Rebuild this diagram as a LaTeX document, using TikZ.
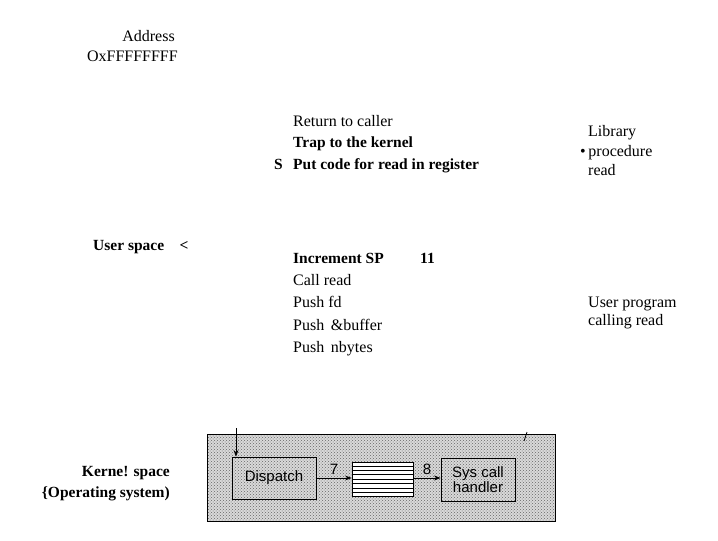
\documentclass[tikz,border=0pt]{standalone}
\usepackage{fontspec}
\setmainfont{Liberation Serif}
\setsansfont{Liberation Sans}
\usetikzlibrary{patterns}
\usetikzlibrary{positioning, calc, arrows.meta}

\tikzset{
    txt/.style={inner sep=0pt, anchor=base west, font=\fontsize{16}{18}\selectfont},
    btxt/.style={txt, font=\fontsize{15.5}{18}\selectfont\bfseries},
    stipple/.style={preaction={fill=gray!30}, pattern=crosshatch dots, pattern color=gray!80!black},
    osbox/.style={draw, thick, stipple, inner sep=0pt, font=\sffamily\fontsize{15}{15}\selectfont, align=center},
}

\begin{document}
\begin{tikzpicture}[x=1pt, y=-1pt, >=Stealth]
    % Page frame
    \useasboundingbox (0,0) rectangle (718,541);

    % Top address
    \node[txt, anchor=base east] (addr) at (175,41) {Address};
    \node[txt, anchor=base east] (top) at (178,61) {OxFFFFFFFF};

    % Library procedure
    \node[txt] (ret) at (293,126) {Return to caller};
    \node[btxt] (trap) at (293,147) {Trap to the kernel};
    \node[btxt] (put) at (293,169) {Put code for read in register};
    \node[btxt, anchor=base east] (s) at (283,169) {S};
    \node[txt] (lib1) at (588,136) {Library};
    \node[txt] (lib2) at (580,156) {\textbullet\,procedure};
    \node[txt] (lib3) at (588,175) {read};

    % User program
    \node[btxt] (user) at (93,250) {User space\quad<};
    \node[btxt] (inc) at (293,263) {Increment SP};
    \node[btxt] (eleven) at (420,263) {11};
    \node[txt] (call) at (293,285) {Call read};
    \node[txt] (pfd) at (293,307) {Push fd};
    \node[txt] (pbuf) at (293,330) {Push \,\&buffer};
    \node[txt] (pnb) at (293,352) {Push \,nbytes};
    \node[txt] (up1) at (588,307) {User program};
    \node[txt] (up2) at (588,325) {calling read};

    % Kernel space
    \node[btxt, anchor=base east] (kern) at (170,476) {Kerne! space};
    \node[btxt, anchor=base east] (os) at (170,497) {\{Operating system)};
    \draw[thick, stipple] (207,434) rectangle (555,521);

    \node[osbox, minimum width=84pt, minimum height=42pt] (disp) at (274,478) {Dispatch};
    \node[draw, thick, fill=white, minimum width=61pt, minimum height=34pt] (tbl) at (382.5,479) {};
    \foreach \k in {1,...,7} {
        \draw ($(tbl.north west)!\k/8!(tbl.south west)$) -- ($(tbl.north east)!\k/8!(tbl.south east)$);
    }
    \node[osbox, minimum width=74pt, minimum height=43pt] (sys) at (478,479.5) {Sys call\\handler};

    \coordinate (in) at (236,428);
    \draw[->, thick] (in) -- (in |- disp.north);
    \draw[->, thick] (disp.east |- 0,478) -- node[above, font=\sffamily\fontsize{15}{15}\selectfont] {7} (tbl.west |- 0,478);
    \draw[->, thick] (tbl.east |- 0,478) -- node[above, font=\sffamily\fontsize{15}{15}\selectfont] {8} (sys.west |- 0,478);
    \coordinate (out) at (527,432);
    \draw[thick] (out) -- ++(-3,9);

\end{tikzpicture}
\end{document}
